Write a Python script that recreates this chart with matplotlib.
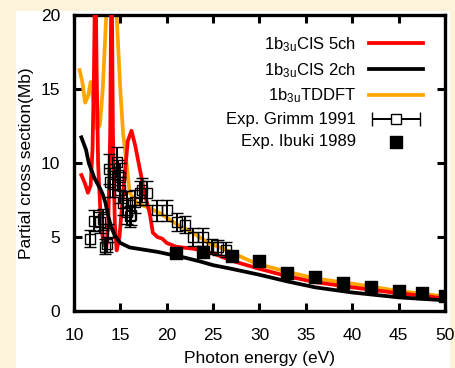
import numpy as np
import matplotlib
matplotlib.use("Agg")
import matplotlib.pyplot as plt
from matplotlib.patches import Rectangle
from matplotlib.legend_handler import HandlerErrorbar

plt.rcParams["font.family"] = ["Liberation Sans", "DejaVu Sans"]
plt.rcParams["mathtext.default"] = "regular"

# CIS 5 channel curve
cis5_x = [10.8, 11.2, 11.5, 11.8, 12.0, 12.15, 12.3, 12.45, 12.6, 12.9, 13.2, 13.5,
          13.7, 13.9, 14.05, 14.2, 14.4, 14.6, 14.9, 15.3, 15.8, 16.2, 16.6, 17.1,
          17.6, 18.2, 18.5, 19.0, 19.5, 20.0, 21.0, 23.0, 25.0, 27.0, 30.0, 33.0,
          36.0, 40.0, 45.0, 50.0]
cis5_y = [9.2, 8.6, 8.0, 8.5, 11.0, 16.0, 24.0, 16.0, 10.0, 6.0, 4.5, 4.3,
          6.0, 12.0, 24.0, 12.0, 6.0, 4.1, 5.0, 8.0, 11.5, 12.2, 11.2, 9.6,
          8.0, 6.5, 5.3, 5.0, 4.9, 4.6, 4.35, 4.2, 3.9, 3.4, 2.85, 2.35,
          1.95, 1.6, 1.2, 0.85]

# CIS 2 channel curve
cis2_x = [10.8, 11.3, 11.6, 12.2, 12.8, 13.1, 13.4, 13.7, 14.0, 14.4, 15.0, 16.0,
          17.5, 19.0, 20.5, 22.0, 23.6, 25.0, 27.0, 30.0, 33.0, 36.0, 40.0, 45.0, 50.0]
cis2_y = [11.75, 10.9, 10.0, 9.0, 8.3, 7.9, 7.3, 6.4, 5.7, 5.1, 4.6, 4.3,
          4.15, 4.0, 3.8, 3.6, 3.35, 3.1, 2.85, 2.45, 2.0, 1.6, 1.25, 0.92, 0.72]

# TDDFT curve
tddft_x = [10.6, 10.9, 11.2, 11.5, 11.8, 12.1, 12.5, 12.8, 13.1, 13.4, 13.7, 14.3,
           14.6, 15.0, 15.3, 15.7, 16.0, 16.8, 18.0, 19.3, 21.0, 22.8, 24.5, 26.5,
           29.3, 30.0, 33.0, 36.0, 40.0, 45.0, 50.0]
tddft_y = [16.3, 15.5, 14.1, 14.5, 15.5, 14.2, 12.3, 12.6, 15.0, 19.0, 23.0, 23.0,
           20.0, 14.9, 12.0, 9.8, 8.0, 7.3, 7.0, 6.6, 5.9, 5.3, 4.6, 4.1,
           3.3, 3.15, 2.65, 2.2, 1.85, 1.35, 0.98]

# Exp. Grimm 1991
grimm_x = [11.7, 12.2, 12.8, 13.1, 13.3, 13.6, 13.7, 13.8, 13.9, 14.2, 14.6, 14.7,
           15.0, 15.0, 15.3, 15.7, 15.7, 16.0, 16.2, 16.6, 17.1, 17.3, 17.9, 18.9,
           20.0, 21.1, 22.0, 22.8, 23.9, 24.9, 25.5, 26.4]
grimm_y = [4.9, 6.1, 6.0, 6.2, 4.35, 4.5, 5.3, 9.6, 8.7, 8.6, 10.1, 9.2,
           9.1, 8.2, 7.3, 6.7, 7.3, 6.4, 6.5, 7.4, 8.0, 8.2, 8.0, 6.8,
           6.8, 6.0, 5.85, 5.0, 5.0, 4.35, 4.3, 4.15]
grimm_err = [0.6, 0.7, 0.7, 0.7, 0.5, 0.5, 0.6, 1.0, 1.0, 0.9, 1.0, 1.0,
             0.9, 0.9, 0.8, 0.8, 0.8, 0.7, 0.7, 0.8, 0.8, 0.8, 0.8, 0.7,
             0.7, 0.6, 0.6, 0.6, 0.6, 0.5, 0.5, 0.5]

# Exp. Ibuki 1989
ibuki_x = [21.0, 23.9, 27.0, 29.9, 33.0, 36.0, 39.0, 42.0, 45.0, 47.5, 50.0]
ibuki_y = [3.9, 4.0, 3.7, 3.4, 2.55, 2.3, 1.9, 1.6, 1.33, 1.2, 1.0]

fig = plt.figure(figsize=(4.55, 3.68), dpi=100, facecolor="#FDF3DB")
fig.patches.append(Rectangle((16 / 455, 0), (450 - 16) / 455, 1 - 11 / 368,
                             transform=fig.transFigure, facecolor="white",
                             edgecolor="none", zorder=-5))
ax = fig.add_axes([0.1626, 0.155, 0.8154, 0.803])
ax.set_zorder(2)
ax.set_facecolor("white")

lw = 2.7
l5, = ax.plot(cis5_x, cis5_y, color="#FF0000", lw=lw, label=r"1b$_{3u}$CIS 5ch", zorder=3)
l2, = ax.plot(cis2_x, cis2_y, color="black", lw=lw, label=r"1b$_{3u}$CIS 2ch", zorder=3)
lt, = ax.plot(tddft_x, tddft_y, color="#FFA500", lw=lw, label=r"1b$_{3u}$TDDFT", zorder=2)

ax.errorbar(grimm_x, grimm_y, yerr=grimm_err, fmt="s", ms=7.5, mfc="none",
            mec="black", mew=1.0, ecolor="black", elinewidth=1.4, capsize=4.5,
            capthick=1.4, zorder=4)
grimm_proxy = ax.errorbar([np.nan], [np.nan], xerr=[1.0], fmt="s", ms=7.5,
                          mfc="white", mec="black", mew=1.0, ecolor="black",
                          elinewidth=1.4, capsize=5, capthick=1.4,
                          label="Exp. Grimm 1991")
ib = ax.scatter(ibuki_x, ibuki_y, marker="s", s=75, color="black", zorder=5,
                label="Exp. Ibuki 1989")

ax.set_xlim(10, 50)
ax.set_ylim(0, 20)
ax.set_xticks(np.arange(10, 51, 5))
ax.set_yticks(np.arange(0, 21, 5))
ax.tick_params(direction="in", length=6, width=2.2, top=True, right=True,
               labelsize=12.5, pad=10)
ax.tick_params(axis="x", pad=12)
for sp in ax.spines.values():
    sp.set_linewidth(2.4)

ax.set_xlabel("Photon energy (eV)", fontsize=12.5, labelpad=6)
ax.set_ylabel("Partial cross section(Mb)", fontsize=12.5, labelpad=5)

ax.legend(handles=[l5, l2, lt, grimm_proxy, ib], loc="upper right",
          bbox_to_anchor=(0.94, 0.933), borderaxespad=0, borderpad=0,
          frameon=False, markerfirst=False, fontsize=12, handlelength=3.2,
          labelspacing=0.42, handletextpad=0.8,
          handler_map={grimm_proxy: HandlerErrorbar(xerr_size=1.45)})

fig.savefig("out.png", dpi=100, facecolor=fig.get_facecolor())
